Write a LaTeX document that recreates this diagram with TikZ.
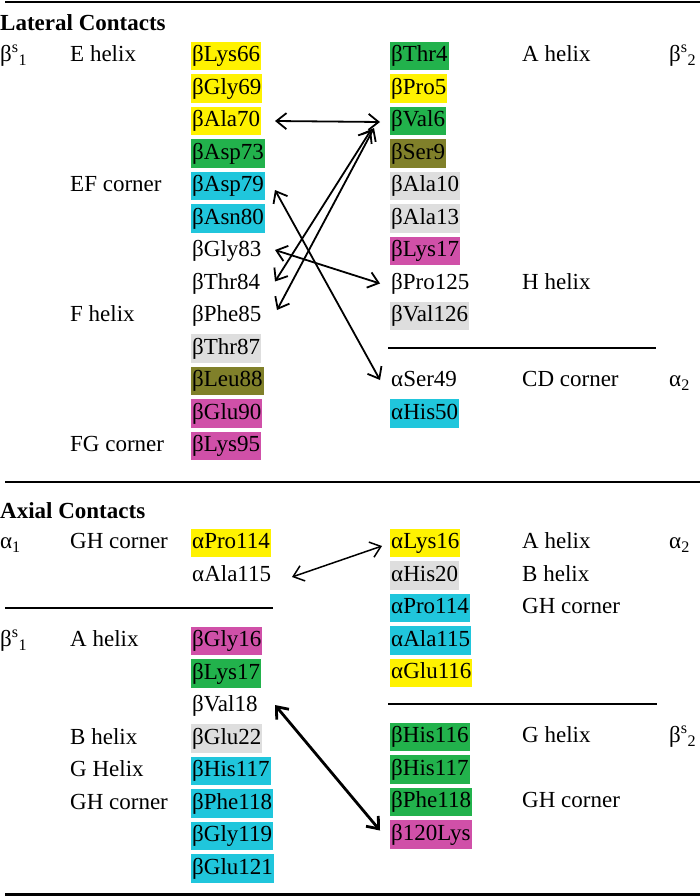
\documentclass[tikz,border=0pt]{standalone}
\usepackage{fontspec}
\setmainfont{Liberation Serif}
\usetikzlibrary{arrows.meta,calc}
\definecolor{cY}{RGB}{255,242,0}
\definecolor{cG}{RGB}{34,178,76}
\definecolor{cC}{RGB}{32,198,220}
\definecolor{cO}{RGB}{128,128,42}
\definecolor{cR}{RGB}{222,222,222}
\definecolor{cM}{RGB}{208,80,168}
\begin{document}
\begin{tikzpicture}[x=1pt,y=-1pt,
  res/.style={anchor=west,inner xsep=1pt,inner ysep=3.5pt,text height=16.5pt,text depth=5pt,font=\fontsize{23}{25}\selectfont},
  hd/.style={anchor=base west,inner sep=0pt,font=\fontsize{23}{25}\selectfont\bfseries},
  rulethick/.style={line width=2.6pt},
  rulethin/.style={line width=2pt},
  conn/.style={line width=1.8pt,{Straight Barb[length=10pt,width=16pt]}-{Straight Barb[length=10pt,width=16pt]}},
  connthin/.style={line width=1.5pt,{Straight Barb[length=10pt,width=16pt]}-{Straight Barb[length=10pt,width=16pt]}},
  connthick/.style={line width=2.8pt,{Straight Barb[length=10pt,width=16pt]}-{Straight Barb[length=10pt,width=16pt]}}]
\useasboundingbox (0,0) rectangle (700,896);

% rules
\draw[rulethick] (5,2) -- (700,2);
\draw[rulethin] (5,482) -- (700,482);
\draw[rulethick] (5,894.5) -- (700,894.5);
\draw[rulethin] (388,348) -- (656,348);
\draw[rulethin] (5,608) -- (273,608);
\draw[rulethin] (388,704) -- (657,704);

% headers
\node[hd] (hlat) at (0,31) {Lateral Contacts};
\node[hd] (hax) at (0,518) {Axial Contacts};

% ---------- Lateral: left ----------
\node[res] (sb1) at (-1,56) {β\textsuperscript{s}\textsubscript{1}};
\node[res] (lE) at (69,56) {E helix};
\node[res] (lEF) at (69,186) {EF corner};
\node[res] (lF) at (69,316) {F helix};
\node[res] (lFG) at (69,446) {FG corner};

\node[res,fill=cY] (Lys66) at (191,56) {βLys66};
\node[res,fill=cY] (Gly69) at (191,88.5) {βGly69};
\node[res,fill=cY] (Ala70) at (191,121) {βAla70};
\node[res,fill=cG] (Asp73) at (191,153.5) {βAsp73};
\node[res,fill=cC] (Asp79) at (191,186) {βAsp79};
\node[res,fill=cC] (Asn80) at (191,218.5) {βAsn80};
\node[res] (Gly83) at (191,251) {βGly83};
\node[res] (Thr84) at (191,283.5) {βThr84};
\node[res] (Phe85) at (191,316) {βPhe85};
\node[res,fill=cR] (Thr87) at (191,348.5) {βThr87};
\node[res,fill=cO] (Leu88) at (191,381) {βLeu88};
\node[res,fill=cM] (Glu90) at (191,413.5) {βGlu90};
\node[res,fill=cM] (Lys95) at (191,446) {βLys95};

% ---------- Lateral: right ----------
\node[res,fill=cG] (Thr4) at (390,56) {βThr4};
\node[res,fill=cY] (Pro5) at (390,88.5) {βPro5};
\node[res,fill=cG] (Val6) at (390,121) {βVal6};
\node[res,fill=cO] (Ser9) at (390,153.5) {βSer9};
\node[res,fill=cR] (Ala10) at (390,186) {βAla10};
\node[res,fill=cR] (Ala13) at (390,218.5) {βAla13};
\node[res,fill=cM] (Lys17r) at (390,251) {βLys17};
\node[res] (Pro125) at (390,283.5) {βPro125};
\node[res,fill=cR] (Val126) at (390,316) {βVal126};
\node[res] (Ser49) at (390,381) {αSer49};
\node[res,fill=cC] (His50) at (390,413.5) {αHis50};

\node[res] (rA) at (521,56) {A helix};
\node[res] (rH) at (521,283.5) {H helix};
\node[res] (rCD) at (521,381) {CD corner};
\node[res] (sb2) at (668,56) {β\textsuperscript{s}\textsubscript{2}};
\node[res] (a2a) at (668,381) {α\textsubscript{2}};

% ---------- Axial: left ----------
\node[res] (a1) at (-1,543) {α\textsubscript{1}};
\node[res] (lGH) at (69,543) {GH corner};
\node[res,fill=cY] (Pro114l) at (191,543) {αPro114};
\node[res] (Ala115l) at (191,576) {αAla115};

\node[res] (sb1b) at (-1,641) {β\textsuperscript{s}\textsubscript{1}};
\node[res] (lA2) at (69,641) {A helix};
\node[res] (lB2) at (69,738.5) {B helix};
\node[res] (lG2) at (69,771) {G Helix};
\node[res] (lGH2) at (69,803.5) {GH corner};

\node[res,fill=cM] (Gly16) at (191,641) {βGly16};
\node[res,fill=cG] (Lys17l) at (191,673.5) {βLys17};
\node[res] (Val18) at (191,706) {βVal18};
\node[res,fill=cR] (Glu22) at (191,738.5) {βGlu22};
\node[res,fill=cC] (His117l) at (191,771) {βHis117};
\node[res,fill=cC] (Phe118l) at (191,803.5) {βPhe118};
\node[res,fill=cC] (Gly119) at (191,836) {βGly119};
\node[res,fill=cC] (Glu121) at (191,868.5) {βGlu121};

% ---------- Axial: right ----------
\node[res,fill=cY] (Lys16) at (390,543) {αLys16};
\node[res,fill=cR] (His20) at (390,575.5) {αHis20};
\node[res,fill=cC] (Pro114r) at (390,608) {αPro114};
\node[res,fill=cC] (Ala115r) at (390,640.5) {αAla115};
\node[res,fill=cY] (Glu116) at (390,673) {αGlu116};
\node[res,fill=cG] (His116) at (390,737) {βHis116};
\node[res,fill=cG] (His117r) at (390,769.5) {βHis117};
\node[res,fill=cG] (Phe118r) at (390,802) {βPhe118};
\node[res,fill=cM] (Lys120) at (390,834.5) {β120Lys};

\node[res] (rA2) at (521,543) {A helix};
\node[res] (rB2) at (521,575.5) {B helix};
\node[res] (rGH2) at (521,608) {GH corner};
\node[res] (rG2) at (521,737) {G helix};
\node[res] (rGH3) at (521,802) {GH corner};
\node[res] (a2b) at (668,543) {α\textsubscript{2}};
\node[res] (sb2b) at (668,737) {β\textsuperscript{s}\textsubscript{2}};

% ---------- connectors ----------
\draw[conn] ($(Ala70.west)+(84,0)$) -- ($(Val6.west)+(-10,1)$);
\draw[conn] ($(Thr84.west)+(84,-2)$) -- ($(Val6.west)+(-19,9)$);
\draw[conn] ($(Phe85.west)+(86,-6)$) -- ($(Val6.west)+(-16,7)$);
\draw[conn] ($(Asp79.west)+(84,4)$) -- ($(Ser49.west)+(-10,-1)$);
\draw[conn] ($(Gly83.west)+(84,-1)$) -- ($(Pro125.west)+(-10,0)$);
\draw[connthin] ($(Ala115l.west)+(101,1)$) -- ($(Lys16.west)+(-8,3)$);
\draw[connthick] ($(Val18.west)+(84,-1)$) -- ($(Lys120.west)+(-10,-4)$);
\end{tikzpicture}
\end{document}
